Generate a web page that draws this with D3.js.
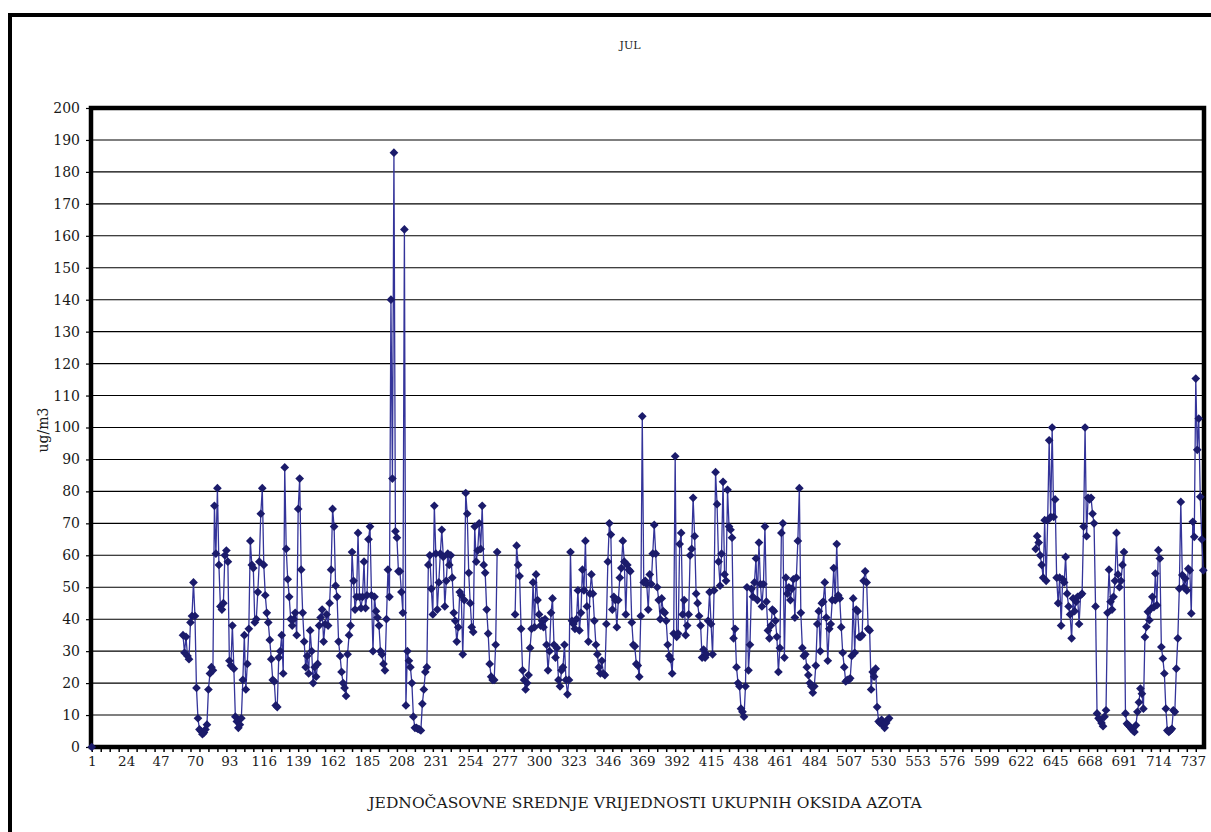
<!DOCTYPE html>
<html>
<head>
<meta charset="utf-8">
<script src="https://cdn.jsdelivr.net/npm/d3@7"></script>
<style>
  html, body { margin: 0; padding: 0; background: #fff; }
  svg { display: block; }
  text { font-family: "DejaVu Serif", serif; fill: #1a1a1a; }
</style>
</head>
<body>
<svg id="chart" width="1211" height="832"></svg>
<script>
// ---- Data (hourly NOx means, July; hours 1..744, gaps = no data) ----
const hourCount = 744;
const xTickLabels = [1, 24, 47, 70, 93, 116, 139, 162, 185, 208, 231, 254, 277, 300, 323, 346, 369, 392, 415, 438, 461, 484, 507, 530, 553, 576, 599, 622, 645, 668, 691, 714, 737];
const yTickLabels = [0, 10, 20, 30, 40, 50, 60, 70, 80, 90, 100, 110, 120, 130, 140, 150, 160, 170, 180, 190, 200];

const seg1Start = 1;
const seg1 = [0];

const seg2Start = 62;
const seg2 = [
  35, 29.5, 34.5, 28.5, 27.5, 39, 41, 51.5,
  41, 18.5, 9, 5.5, 5, 4, 4.5, 5.5, 7, 18, 23, 25, 24, 75.5, 60.5, 81,
  57, 44, 43, 45, 60, 61.5, 58, 27, 25.5, 38, 24.5, 9.5, 8, 6, 7, 9, 21, 35, 18, 26, 37, 64.5, 57, 56, 39, 40, 48.5, 58, 73, 81,
  57, 47.5, 42, 39, 33.5, 27.5, 21, 20.5, 13, 12.5, 28, 30, 35, 23, 87.5,
  62, 52.5, 47, 40, 38, 40, 42, 35, 74.5, 84,
  55.5, 42, 33, 25, 28.5, 23, 36.5, 30, 20, 25, 22, 26, 38, 40.5, 43, 33, 38.5, 41.5, 38, 45, 55.5, 74.5,
  69, 50.5, 47, 33, 28.5, 23.5, 20, 18.5, 16, 29, 35, 38, 61, 52, 43, 47, 67,
  47, 43.5, 47, 58, 43.5, 47.5, 65, 69,
  47.5, 30, 47, 42.5, 40.5, 38, 30, 29, 26, 24, 40, 55.5, 47,
  140, 84, 186, 67.5, 65.5, 55, 55, 48.5, 42, 162,
  13, 30, 27, 25, 20, 9.5, 6, 6, 5.7, 5.5, 5.2, 13.5, 18, 23.5, 25, 57, 60, 49.5, 41.5, 75.5,
  60.5, 43, 51.5, 60.5, 68, 59.5, 44, 52, 60.5, 57, 60, 53, 42, 39.5, 33, 37.5, 48.5, 47.5, 29, 46, 79.5,
  73, 54.5, 45, 37.5, 36, 69, 58, 61.5, 70, 62, 75.5,
  57, 54.5, 43, 35.5, 26, 22, 21, 21, 32, 61
];

const seg3Start = 284;
const seg3 = [
  41.5, 63, 57, 53.5, 37, 24, 21, 18, 20, 22.5, 31, 37, 51.5, 37.5, 54,
  46, 41.5, 38, 39.5, 37.5, 40, 32, 24, 30, 42, 46.5, 32, 28, 31, 21, 19, 24, 25, 32, 21, 16.5, 21, 61,
  39.5, 38.5, 37, 40, 49, 36.5, 42, 55.5, 49, 64.5,
  44, 33, 48, 54, 48, 39.5, 32, 29, 25, 23, 27, 23, 22.5, 38.5, 58, 70,
  66.5, 43, 47, 46, 37.5, 46, 53, 56, 64.5,
  58, 41.5, 57, 55.5, 55, 39, 32, 31.5, 26, 25.5, 22, 41, 103.5,
  51.5, 52, 51, 43, 54, 51, 60.5, 69.5,
  60.5, 50, 46, 40, 46.5, 42.5, 42, 39.5, 32, 28.5, 27.5, 23, 35.5, 91,
  34.5, 35.5, 63.5, 67, 41.5, 46, 35, 38, 41.5, 60, 62, 78,
  66, 48, 45, 41, 38, 28, 30.5, 28, 29, 39.5, 48.5, 38.5, 29, 49, 86,
  76, 58, 50.5, 60.5, 83, 54, 52, 80.5,
  69, 68, 65.5, 34, 37, 25, 20, 19, 12, 11, 9.5,
  19, 50, 24, 32, 49.5, 47, 51.5, 59, 46, 64,
  51, 44, 51, 69,
  45.5, 36.5, 34, 38, 43, 42.5, 39.5, 34.5, 23.5, 31, 67, 70,
  28, 53, 48, 50, 46, 49.5, 52.5, 40.5, 53, 64.5, 81,
  42, 31, 28.5, 29, 25, 22.5, 20, 19, 17, 19, 25.5, 38.5, 42.5, 30, 45, 45.5, 51.5, 40.5, 27, 37, 38.5, 46, 56, 46, 63.5,
  47.5, 46.5, 37.5, 29.5, 25, 20.5, 21, 21, 21.5, 28.5, 46.5, 29.5, 43, 42.5, 34.5, 34.5, 35, 52, 55,
  51.5, 37, 36.5, 18, 23.5, 22, 24.5, 12.5, 8, 7.5, 8.5, 7, 6, 7.5, 8.5, 9
];

const seg4Start = 632;
const seg4 = [
  62, 66, 64, 60, 57, 53, 71, 52, 71, 96, 72, 100,
  72, 77.5, 53, 45, 53, 38, 52.5, 51.5, 59.5, 48, 44, 41.5, 34, 46.5, 42.5, 45.5, 47, 38.5, 47.5, 48, 69, 100,
  66, 78, 77.5, 78, 73, 70, 44, 10.5, 9, 8.5, 7.5, 6.5, 9.5, 11.5, 42, 55.5, 45.5, 43, 47, 52, 67, 54, 50, 52, 57, 61,
  10.5, 7.3, 6.8, 6.3, 5.7, 5.2, 4.7, 6.8, 11, 14, 18.3, 16.7, 12,
  34.4, 37.6, 42.3, 39.7, 43.3, 47, 43.8, 54.3, 44.4, 61.6, 59,
  31.3, 27.7, 23, 12, 5.2, 4.7, 5.2, 5.7, 11.5, 11, 24.5, 34, 49.6,
  76.7, 53.8, 50, 52.7, 49, 55.8, 55.3, 41.8, 70.5, 65.8, 115.3, 93, 102.8, 78.3, 65, 55.3
];

const chartTitle = "JUL";
const xTitle = "JEDNOČASOVNE SREDNJE VRIJEDNOSTI UKUPNIH OKSIDA AZOTA";
const yTitle = "ug/m3";

// ---- Build series ----
const hours = d3.range(1, hourCount + 1);
const values = new Array(hourCount).fill(null);
[[seg1Start, seg1], [seg2Start, seg2], [seg3Start, seg3], [seg4Start, seg4]].forEach(([s, arr]) => {
  arr.forEach((v, i) => { values[s - 1 + i] = v; });
});
const series = hours.map((h, i) => ({ h, v: values[i] }));

// ---- Layout ----
const svg = d3.select("#chart");
const plot = { left: 91, top: 108, right: 1204, bottom: 747 };
const fontFam = "'DejaVu Serif', serif";

const x = d3.scaleLinear().domain([0.5, hourCount + 0.5]).range([plot.left, plot.right]);
const y = d3.scaleLinear().domain([0, 200]).range([plot.bottom, plot.top]);

// outer chart border
svg.append("rect")
  .attr("x", 10).attr("y", 15).attr("width", 1215).attr("height", 840)
  .attr("fill", "none").attr("stroke", "#000").attr("stroke-width", 4);

// title
svg.append("text").attr("x", 630).attr("y", 49).attr("text-anchor", "middle")
  .style("font-size", "11px").text(chartTitle);

// gridlines
svg.append("g").selectAll("line").data(yTickLabels.filter(t => t > 0 && t < 200)).join("line")
  .attr("x1", plot.left).attr("x2", plot.right)
  .attr("y1", d => y(d)).attr("y2", d => y(d))
  .attr("stroke", "#000").attr("stroke-width", 1.1);

// y axis
const yAxis = d3.axisLeft(y).tickValues(yTickLabels).tickSize(5).tickPadding(6).tickFormat(d3.format("d"));
const gy = svg.append("g").attr("transform", `translate(${plot.left},0)`).call(yAxis);
gy.select(".domain").remove();
gy.selectAll(".tick line").attr("stroke", "#000").attr("stroke-width", 1.2);
gy.selectAll(".tick text").style("font-size", "14px").style("font-family", fontFam).attr("fill", "#222");

// x axis
const minorTicks = d3.range(1, hourCount + 1, 6);
const xAxisMinor = d3.axisBottom(x).tickValues(minorTicks).tickSize(5).tickFormat("");
const gxm = svg.append("g").attr("transform", `translate(0,${plot.bottom})`).call(xAxisMinor);
gxm.select(".domain").remove();
gxm.selectAll(".tick line").attr("stroke", "#000").attr("stroke-width", 1.5);

const xAxis = d3.axisBottom(x).tickValues(xTickLabels).tickSize(0).tickPadding(9).tickFormat(d3.format("d"));
const gx = svg.append("g").attr("transform", `translate(0,${plot.bottom})`).call(xAxis);
gx.select(".domain").remove();
gx.selectAll(".tick text").style("font-size", "13.5px").style("font-family", fontFam).attr("fill", "#222");

// plot frame
svg.append("rect")
  .attr("x", plot.left).attr("y", plot.top)
  .attr("width", plot.right - plot.left).attr("height", plot.bottom - plot.top)
  .attr("fill", "none").attr("stroke", "#000").attr("stroke-width", 4.5);

// line
const line = d3.line().defined(d => d.v !== null).x(d => x(d.h)).y(d => y(d.v));
svg.append("path").datum(series).attr("d", line)
  .attr("fill", "none").attr("stroke", "#34349a").attr("stroke-width", 1.3);

// markers (diamonds)
const diamond = d3.symbol().type(d3.symbolSquare).size(38);
svg.append("g").selectAll("path").data(series.filter(d => d.v !== null)).join("path")
  .attr("d", diamond)
  .attr("transform", d => `translate(${x(d.h)},${y(d.v)}) rotate(45)`)
  .attr("fill", "#1b1b6b");

// axis titles
svg.append("text").attr("x", 645).attr("y", 808).attr("text-anchor", "middle")
  .style("font-size", "15.5px").text(xTitle);
svg.append("text").attr("transform", "translate(48,430) rotate(-90)").attr("text-anchor", "middle")
  .style("font-size", "14px").text(yTitle);
</script>
</body>
</html>
